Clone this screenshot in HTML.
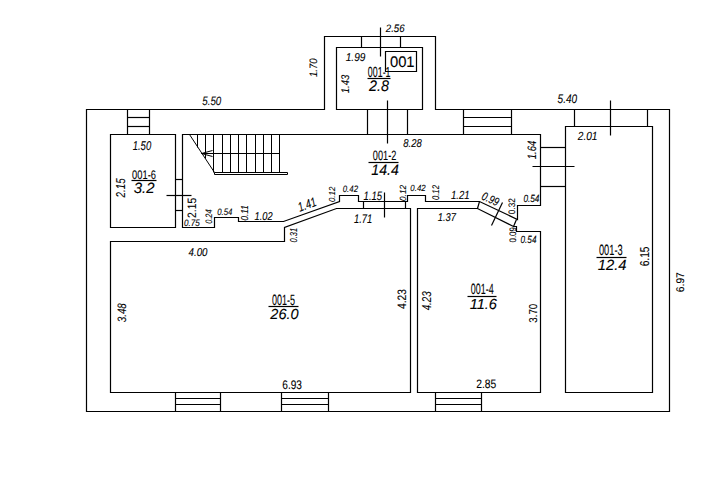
<!DOCTYPE html><html><head><meta charset="utf-8"><style>html,body{margin:0;padding:0;background:#fff;width:720px;height:477px;overflow:hidden}svg{display:block}</style></head><body>
<svg width="720" height="477" viewBox="0 0 720 477">
<g fill="none" stroke="#000" stroke-width="1.2" stroke-linejoin="miter" stroke-linecap="butt">
<path d="M86.5 109.5 L324.5 109.5 L324.5 36.5 L435.5 36.5 L435.5 109.5 L669.5 109.5 L669.5 411.5 L86.5 411.5 Z"/>
<path d="M336.5 47.5 L422.5 47.5 L422.5 109.5 L336.5 109.5 Z"/>
<path d="M361.5 36.5 L361.5 47.5"/>
<path d="M400.5 36.5 L400.5 47.5"/>
<path d="M380.5 27.5 L380.5 56.5"/>
<path d="M385.5 51.5 L416.5 51.5 L416.5 71.5 L385.5 71.5 Z"/>
<path d="M367.5 109.5 L367.5 134.5"/>
<path d="M407.5 109.5 L407.5 134.5"/>
<path d="M387.5 100.5 L387.5 143.5"/>
<path d="M127.5 109.5 L127.5 134.5"/>
<path d="M149.5 109.5 L149.5 134.5"/>
<path d="M127.5 117.5 L149.5 117.5"/>
<path d="M127.5 126.5 L149.5 126.5"/>
<path d="M463.5 109.5 L463.5 134.5"/>
<path d="M511.5 109.5 L511.5 134.5"/>
<path d="M463.5 117.5 L511.5 117.5"/>
<path d="M463.5 126.5 L511.5 126.5"/>
<path d="M574.5 109.5 L574.5 126.5"/>
<path d="M647.5 109.5 L647.5 126.5"/>
<path d="M610.5 100.5 L610.5 135.5"/>
<path d="M110.5 134.5 L175.5 134.5 L175.5 227.5 L110.5 227.5 Z"/>
<path d="M175.5 179.5 L182.5 179.5"/>
<path d="M175.5 210.5 L182.5 210.5"/>
<path d="M166.5 195.5 L191.5 195.5"/>
<path d="M182.5 227.5 L182.5 134.5 L540.5 134.5 L540.5 205.5 L517.5 205.5 L517.5 219.5 L479.5 201.5 L425.5 201.5 L425.5 195.5 L407.5 195.5 L407.5 201.5 L358.5 201.5 L358.5 195.5 L339.5 195.5 L339.5 201.5 L283.5 221.5 L238.5 221.5 L238.5 217.5 L214.5 217.5 L214.5 227.5 Z"/>
<path d="M110.5 241.5 L284.5 241.5 L284.5 227.5 L336.5 208.5 L410.5 208.5 L410.5 392.5 L110.5 392.5 Z"/>
<path d="M363.5 201.5 L363.5 208.5"/>
<path d="M405.5 201.5 L405.5 208.5"/>
<path d="M384.5 192.5 L384.5 217.5"/>
<path d="M417.5 208.5 L477.5 208.5 L513.5 226.5 L516.5 226.5 L516.5 231.5 L540.5 231.5 L540.5 392.5 L417.5 392.5 Z"/>
<path d="M479.5 201.5 L477.5 208.5"/>
<path d="M516.5 219.5 L513.5 226.5"/>
<path d="M502.5 202.5 L491.5 225.5"/>
<path d="M540.5 147.5 L565.5 147.5"/>
<path d="M540.5 186.5 L565.5 186.5"/>
<path d="M532.5 166.5 L574.5 166.5"/>
<path d="M565.5 126.5 L652.5 126.5 L652.5 392.5 L565.5 392.5 Z"/>
<path d="M175.5 392.5 L175.5 411.5"/>
<path d="M220.5 392.5 L220.5 411.5"/>
<path d="M175.5 398.5 L220.5 398.5"/>
<path d="M175.5 404.5 L220.5 404.5"/>
<path d="M281.5 392.5 L281.5 411.5"/>
<path d="M328.5 392.5 L328.5 411.5"/>
<path d="M281.5 398.5 L328.5 398.5"/>
<path d="M281.5 404.5 L328.5 404.5"/>
<path d="M435.5 392.5 L435.5 411.5"/>
<path d="M481.5 392.5 L481.5 411.5"/>
<path d="M435.5 398.5 L481.5 398.5"/>
<path d="M435.5 404.5 L481.5 404.5"/>
<path d="M189.5 134.5 L214.5 172.5" stroke-width="1.0"/>
<path d="M197.5 134.5 L197.5 147.5" stroke-width="1.0"/>
<path d="M205.5 134.5 L205.5 158.5" stroke-width="1.0"/>
<path d="M213.5 134.5 L213.5 172.5" stroke-width="1.0"/>
<path d="M222.5 134.5 L222.5 172.5" stroke-width="1.0"/>
<path d="M230.5 134.5 L230.5 172.5" stroke-width="1.0"/>
<path d="M238.5 134.5 L238.5 172.5" stroke-width="1.0"/>
<path d="M246.5 134.5 L246.5 172.5" stroke-width="1.0"/>
<path d="M255.5 134.5 L255.5 172.5" stroke-width="1.0"/>
<path d="M263.5 134.5 L263.5 172.5" stroke-width="1.0"/>
<path d="M271.5 134.5 L271.5 172.5" stroke-width="1.0"/>
<path d="M279.5 134.5 L279.5 172.5" stroke-width="1.0"/>
<path d="M201.5 153.5 L279.5 153.5" stroke-width="1.0"/>
<path d="M214.5 172.5 L287.5 172.5 L287.5 174.5 L214.5 174.5 Z" stroke-width="1.0"/>
<path d="M201.5 153.5 L212.5 150.5" stroke-width="1.0"/>
<path d="M201.5 153.5 L212.5 156.5" stroke-width="1.0"/>
<path d="M367.5 78.5 L390.5 78.5"/>
<path d="M368.5 162.5 L398.5 162.5"/>
<path d="M131.5 180.5 L156.5 180.5"/>
<path d="M596.5 257.5 L626.5 257.5"/>
<path d="M268.5 306.5 L298.5 306.5"/>
<path d="M467.5 296.5 L496.5 296.5"/>
</g>
<g font-family="Liberation Sans" text-rendering="geometricPrecision" fill="#000" stroke="#000" stroke-width="0.1">
<text transform="translate(385.77,31.65) rotate(0) scale(0.895,1)" font-size="10.77" font-style="italic">2.56</text>
<text transform="translate(345.73,60.60) rotate(0) scale(0.882,1)" font-size="11.46" font-style="italic">1.99</text>
<text transform="translate(389.90,66.75) rotate(0) scale(0.969,1)" font-size="15.28">001</text>
<text transform="translate(367.85,76.55) rotate(0) scale(0.608,1)" font-size="14.58">001-1</text>
<text transform="translate(368.98,90.80) rotate(0) scale(0.939,1)" font-size="15.28" font-style="italic">2.8</text>
<text transform="translate(202.23,104.55) rotate(0) scale(0.804,1)" font-size="12.16" font-style="italic">5.50</text>
<text transform="translate(557.62,102.65) rotate(0) scale(0.804,1)" font-size="12.50" font-style="italic">5.40</text>
<text transform="translate(132.70,149.65) rotate(0) scale(0.739,1)" font-size="12.85" font-style="italic">1.50</text>
<text transform="translate(577.75,139.95) rotate(0) scale(0.859,1)" font-size="11.81" font-style="italic">2.01</text>
<text transform="translate(403.32,147.15) rotate(0) scale(0.830,1)" font-size="11.46" font-style="italic">8.28</text>
<text transform="translate(372.85,160.35) rotate(0) scale(0.678,1)" font-size="13.55">001-2</text>
<text transform="translate(371.35,175.40) rotate(0) scale(0.927,1)" font-size="15.30" font-style="italic">14.4</text>
<text transform="translate(132.12,178.75) rotate(0) scale(0.745,1)" font-size="12.50">001-6</text>
<text transform="translate(133.75,192.60) rotate(0) scale(1.004,1)" font-size="14.93" font-style="italic">3.2</text>
<text transform="translate(184.00,225.50) rotate(0) scale(0.864,1)" font-size="9.38" font-style="italic">0.75</text>
<text transform="translate(217.18,214.65) rotate(0) scale(0.831,1)" font-size="9.38" font-style="italic">0.54</text>
<text transform="translate(254.50,219.70) rotate(0) scale(0.811,1)" font-size="11.46" font-style="italic">1.02</text>
<text transform="translate(342.75,192.45) rotate(0) scale(0.839,1)" font-size="9.38" font-style="italic">0.42</text>
<text transform="translate(363.60,200.05) rotate(0) scale(0.785,1)" font-size="12.16" font-style="italic">1.15</text>
<text transform="translate(410.35,190.75) rotate(0) scale(0.871,1)" font-size="9.03" font-style="italic">0.42</text>
<text transform="translate(451.00,199.25) rotate(0) scale(0.812,1)" font-size="11.82" font-style="italic">1.21</text>
<text transform="translate(354.02,223.10) rotate(0) scale(0.753,1)" font-size="12.51" font-style="italic">1.71</text>
<text transform="translate(437.70,220.70) rotate(0) scale(0.814,1)" font-size="11.46" font-style="italic">1.37</text>
<text transform="translate(523.40,202.25) rotate(0) scale(0.792,1)" font-size="10.42" font-style="italic">0.54</text>
<text transform="translate(520.55,242.65) rotate(0) scale(0.785,1)" font-size="10.42" font-style="italic">0.54</text>
<text transform="translate(188.60,255.55) rotate(0) scale(0.848,1)" font-size="11.46" font-style="italic">4.00</text>
<text transform="translate(598.88,255.45) rotate(0) scale(0.623,1)" font-size="14.93">001-3</text>
<text transform="translate(597.70,270.05) rotate(0) scale(0.990,1)" font-size="14.94" font-style="italic">12.4</text>
<text transform="translate(272.00,304.60) rotate(0) scale(0.604,1)" font-size="14.93">001-5</text>
<text transform="translate(270.30,318.75) rotate(0) scale(0.997,1)" font-size="14.58" font-style="italic">26.0</text>
<text transform="translate(470.80,294.40) rotate(0) scale(0.600,1)" font-size="14.93">001-4</text>
<text transform="translate(469.65,308.70) rotate(0) scale(1.002,1)" font-size="14.59" font-style="italic">11.6</text>
<text transform="translate(282.27,389.45) rotate(0) scale(0.809,1)" font-size="12.50">6.93</text>
<text transform="translate(476.25,387.80) rotate(0) scale(0.846,1)" font-size="12.16">2.85</text>
<text transform="translate(316.85,77.10) rotate(-90) scale(0.890,1)" font-size="10.77" font-style="italic">1.70</text>
<text transform="translate(348.50,93.22) rotate(-90) scale(0.858,1)" font-size="11.12" font-style="italic">1.43</text>
<text transform="translate(125.20,197.55) rotate(-90) scale(0.767,1)" font-size="12.85" font-style="italic">2.15</text>
<text transform="translate(196.25,217.88) rotate(-90) scale(0.851,1)" font-size="12.16">2.15</text>
<text transform="translate(212.15,223.85) rotate(-90) scale(0.794,1)" font-size="9.38" font-style="italic">0.24</text>
<text transform="translate(248.10,220.38) rotate(-90) scale(0.800,1)" font-size="10.07" font-style="italic">0.11</text>
<text transform="translate(296.75,242.45) rotate(-90) scale(0.744,1)" font-size="10.08" font-style="italic">0.31</text>
<text transform="translate(335.05,202.10) rotate(-90) scale(0.911,1)" font-size="8.69" font-style="italic">0.12</text>
<text transform="translate(405.75,200.93) rotate(-90) scale(0.908,1)" font-size="9.03" font-style="italic">0.12</text>
<text transform="translate(438.55,200.12) rotate(-90) scale(0.801,1)" font-size="9.73" font-style="italic">0.12</text>
<text transform="translate(535.70,159.20) rotate(-90) scale(0.783,1)" font-size="12.16" font-style="italic">1.64</text>
<text transform="translate(515.40,214.25) rotate(-90) scale(0.880,1)" font-size="9.38">0.32</text>
<text transform="translate(515.65,242.55) rotate(-90) scale(0.851,1)" font-size="9.38">0.09</text>
<text transform="translate(405.95,308.90) rotate(-90) scale(0.837,1)" font-size="12.16">4.23</text>
<text transform="translate(430.55,310.35) rotate(-90) scale(0.760,1)" font-size="12.85" font-style="italic">4.23</text>
<text transform="translate(537.10,322.75) rotate(-90) scale(0.854,1)" font-size="11.46">3.70</text>
<text transform="translate(649.25,266.35) rotate(-90) scale(0.792,1)" font-size="12.85">6.15</text>
<text transform="translate(683.95,292.15) rotate(-90) scale(0.921,1)" font-size="11.12">6.97</text>
<text transform="translate(125.60,322.27) rotate(-90) scale(0.804,1)" font-size="12.16" font-style="italic">3.48</text>
<text transform="translate(299.85,211.73) rotate(-19.7) scale(0.740,1)" font-size="12.86" font-style="italic">1.41</text>
<text transform="translate(480.73,199.05) rotate(24) scale(0.775,1)" font-size="11.81" font-style="italic">0.99</text>
</g></svg></body></html>
